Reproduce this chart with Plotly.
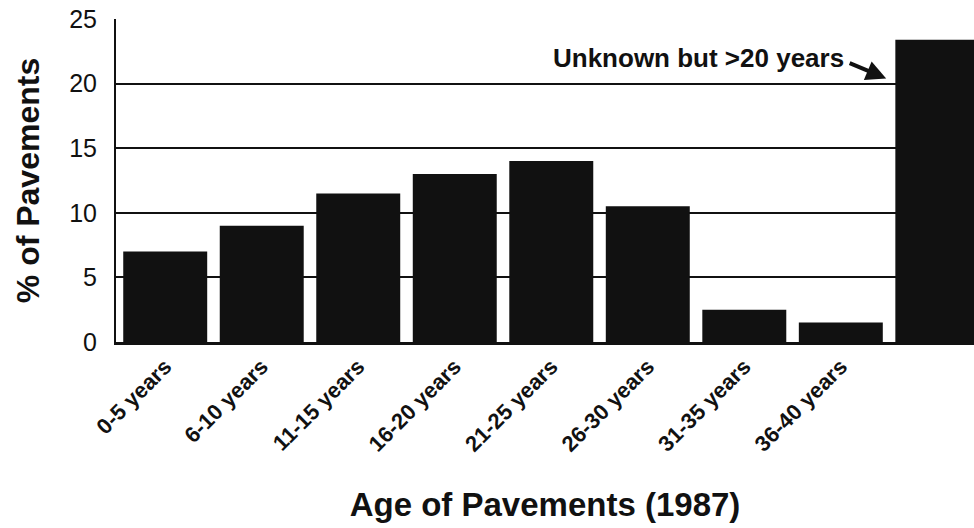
import plotly.graph_objects as go

# Share of pavements by age bracket, 1987
categories = ["0-5 years", "6-10 years", "11-15 years", "16-20 years", "21-25 years",
              "26-30 years", "31-35 years", "36-40 years", "Unknown"]
tick_labels = ["0-5 years", "6-10 years", "11-15 years", "16-20 years", "21-25 years",
               "26-30 years", "31-35 years", "36-40 years", ""]
percent = [7.0, 9.0, 11.5, 13.0, 14.0, 10.5, 2.5, 1.5, 23.4]
y_ticks = [0, 5, 10, 15, 20, 25]

font_family = "Liberation Sans, Arial, Helvetica, sans-serif"
ink = "#111111"

fig = go.Figure(
    go.Bar(
        x=list(range(len(categories))),
        y=percent,
        marker=dict(color=ink, line=dict(width=0)),
        width=0.87,
        hoverinfo="skip",
    )
)

fig.update_layout(
    width=974,
    height=528,
    margin=dict(l=116, r=0, t=19, b=186),
    paper_bgcolor="white",
    plot_bgcolor="white",
    showlegend=False,
    font=dict(family=font_family, color=ink),
)

fig.update_xaxes(
    range=[-0.51, 8.38],
    tickmode="array",
    tickvals=list(range(len(categories))),
    ticktext=[f"<b>{t}</b>" for t in tick_labels],
    tickangle=-45,
    tickfont=dict(size=22, family=font_family, color=ink),
    showgrid=False,
    showline=True,
    linecolor=ink,
    linewidth=3,
    ticks="",
    title=dict(text="<b>Age of Pavements (1987)</b>",
               font=dict(size=33, family=font_family, color=ink), standoff=38),
    zeroline=False,
)

fig.update_yaxes(
    range=[0, 25],
    tickmode="array",
    tickvals=y_ticks,
    ticktext=[str(v) for v in y_ticks],
    tickfont=dict(size=25, family=font_family, color=ink),
    showgrid=True,
    gridcolor=ink,
    gridwidth=1.5,
    showline=True,
    linecolor=ink,
    linewidth=2,
    ticks="",
    ticklabelstandoff=12,
    title=dict(text="<b>% of Pavements</b>",
               font=dict(size=32, family=font_family, color=ink), standoff=20),
    zeroline=False,
)

# Note for the last bar: label text plus a short arrow pointing at it
fig.add_annotation(
    x=7.47, y=20.4, xref="x", yref="y",
    text="", showarrow=True,
    ax=-38, ay=-16,
    arrowhead=2, arrowsize=1.0, arrowwidth=4, arrowcolor=ink,
)
fig.add_annotation(
    x=7.05, y=22.0, xref="x", yref="y",
    text="<b>Unknown but >20 years</b>", showarrow=False,
    xanchor="right", yanchor="middle",
    font=dict(size=26, family=font_family, color=ink),
)

fig.write_html("out.html")
